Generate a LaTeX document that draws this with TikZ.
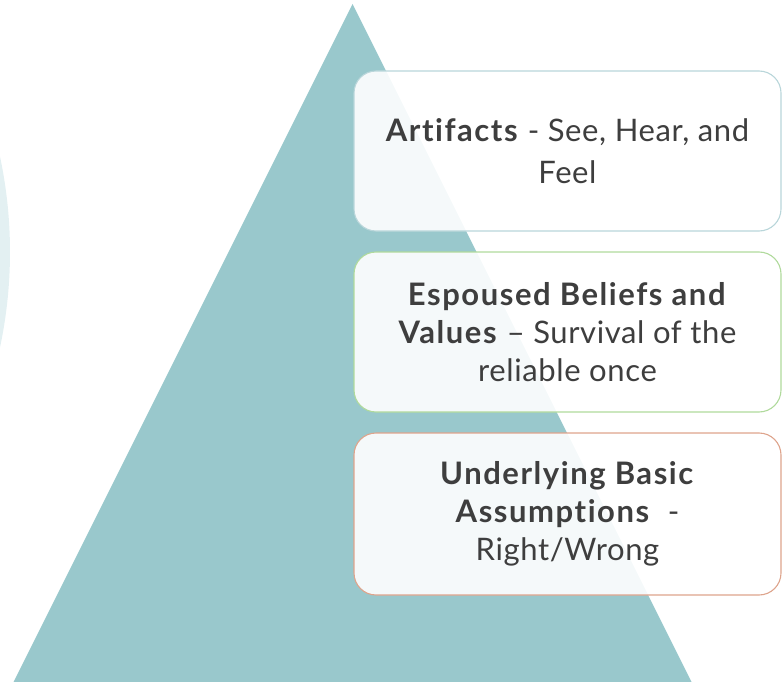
\documentclass[tikz,border=0pt]{standalone}
\usepackage{fontspec}
\setmainfont{Lato}[Ligatures=NoCommon, LetterSpace=2, BoldFeatures={LetterSpace=5}]
\usepackage{xcolor}
\definecolor{pyramid}{RGB}{153,200,204}
\definecolor{halo}{RGB}{227,240,242}
\definecolor{artline}{RGB}{185,214,218}
\definecolor{valline}{RGB}{176,218,156}
\definecolor{assline}{RGB}{222,164,140}
\definecolor{inktext}{RGB}{62,62,62}
\usetikzlibrary{positioning}

\tikzset{
	layerbox/.style={draw, line width=1.1pt, fill=white, fill opacity=0.9, text opacity=1,
		rounded corners=22pt, minimum width=427pt, minimum height=160pt,
		align=center, text=inktext, inner sep=0pt, font=\fontsize{31}{38}\selectfont}
}

\begin{document}
\begin{tikzpicture}[x=1pt,y=-1pt]
		\useasboundingbox (0,0) rectangle (782,682);
		
		%draw faint circle at the left
		\fill[halo] (-446,252) circle (456pt);
		
		%draw pyramid
		\fill[pyramid] (352.5,4) -- (691.5,682) -- (13.5,682) -- cycle;
		
		%layers
		\node[layerbox, draw=artline, font=\fontsize{31}{42}\selectfont] (artifacts) at (567.5,151)
			{\textbf{Artifacts} - See, Hear, and\\Feel};
		\node[layerbox, draw=valline] (values) at (567.5,332)
			{\textbf{Espoused Beliefs and}\\\textbf{Values} -- Survival of the\\reliable once};
		\node[layerbox, draw=assline, minimum height=162pt] (assumptions) at (567.5,514)
			{\textbf{Underlying Basic}\\\textbf{Assumptions}\ \ -\\Right/Wrong};
	\end{tikzpicture}
\end{document}
